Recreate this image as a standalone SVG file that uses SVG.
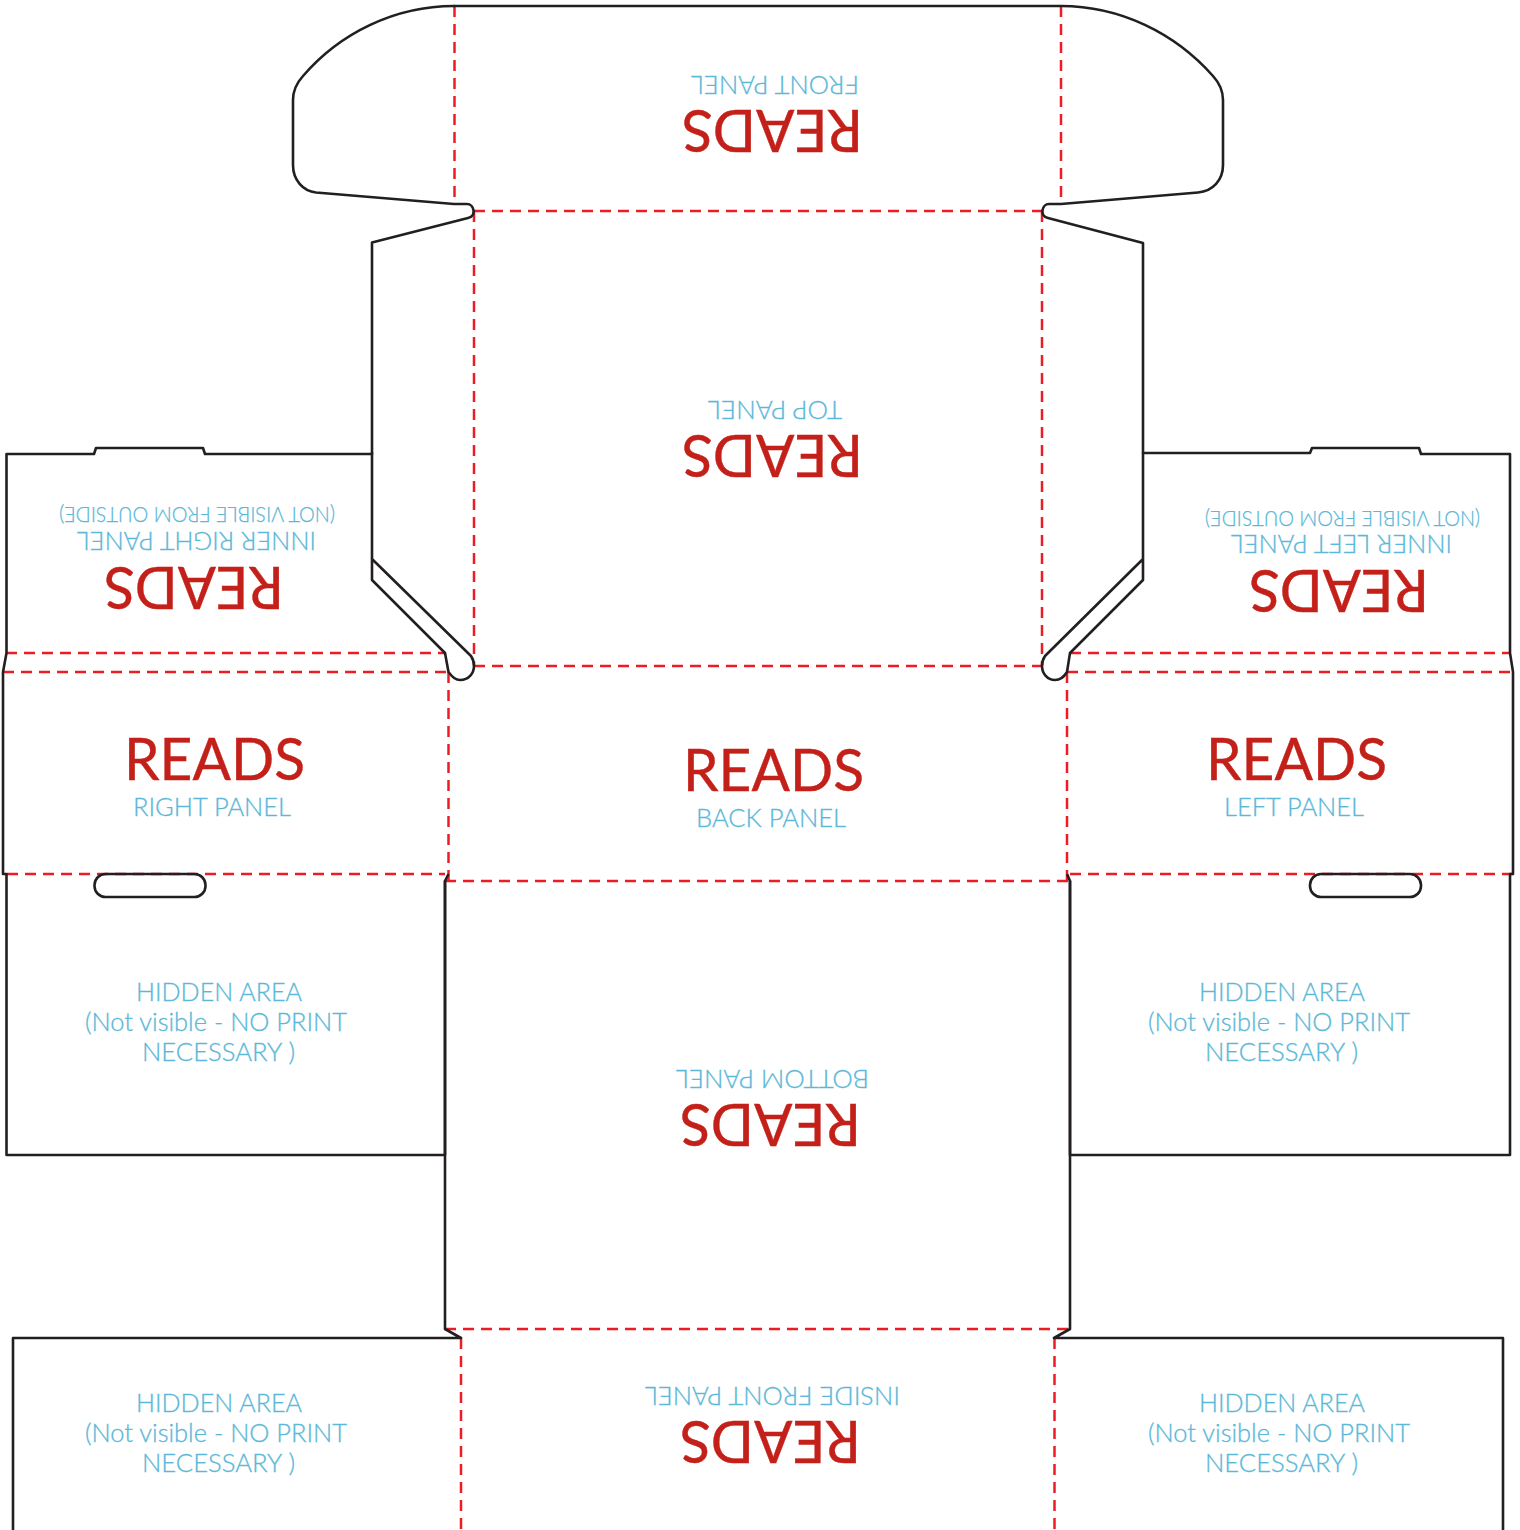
<svg xmlns="http://www.w3.org/2000/svg" width="1520" height="1530" viewBox="0 0 1520 1530">
<style>
.cut{fill:none;stroke:#231f20;stroke-width:2.6;stroke-linejoin:round;stroke-linecap:round}
.fold{fill:none;stroke:#ed1c24;stroke-width:2.5;stroke-dasharray:11 7}
text{font-family:"Lato","Noto Sans",sans-serif}
.brand{font-size:58px;font-weight:400;fill:#c4201a;stroke:#c4201a;stroke-width:.4}
.lab{font-size:25px;font-weight:300;fill:#5bb8d8;stroke:#5bb8d8;stroke-width:.3}
.note{font-size:21px;font-weight:300;fill:#5bb8d8;stroke:#5bb8d8;stroke-width:.25}
</style>
<rect width="1520" height="1530" fill="#fff"/>
<g id="connectors">
<path class="fold" d="M454.5 6V204M1061 6V204M474 211H1042M474 211V666M1042 211V666M474 666H1042M6 653H446M3 672H448M448.5 672V880M7 874H445M445 881H1070M1067 672V880M1070 653H1510M1067 672H1513M1070 874H1513M445 1329H1070M461 1338V1530M1054.500 1338V1530"/>
</g>
<g id="outline">
<path class="cut" d="M454 6H1061C1120 6 1175 33 1213 76Q1223 87 1223 100V165C1223 180 1213 191 1198 192.500L1061 204H1049C1042 204 1039 216 1048 218L1143 243V453H1310L1312 448H1419L1421 454H1510V653L1513 672V874H1510V1155H1070V881L1067.500 875"/>
<path class="cut" d="M454 6C395 6 340 33 303 76Q293 87 293 100V165C293 180 303 191 316 192.500L454 204H467C474 204 477 216 468 218L372 242.500V454H205L203 448H96L94 454H6.500V653L3 672V874H6.500V1155H445V881L448 875"/>
<path class="cut" d="M445 881V1329L461 1338H13V1530M1070 881V1329L1054 1338H1503V1530"/>
<path class="cut" d="M372 453V580L445 653L448.500 672C452 677 455 680 460 680C469 680 474 673 474 666C474 662 473 659 471 656L372 559"/>
<path class="cut" d="M1143 453V580L1070 653L1067 672C1064 677 1060 680 1055 680C1047 680 1042 673 1042 666C1042 662 1043 659 1045 656L1143 559"/>
<rect class="cut" x="94.500" y="874" width="111" height="23" rx="11"/>
<rect class="cut" x="1310" y="874" width="111" height="23" rx="11"/>
</g>
<g id="front-panel">
<text class="lab" transform="translate(859,76) rotate(180)" textLength="168" lengthAdjust="spacingAndGlyphs">FRONT PANEL</text>
<text class="brand" transform="translate(863,110) rotate(180)" textLength="181" lengthAdjust="spacingAndGlyphs">READS</text>
</g>
<g id="top-panel">
<text class="lab" transform="translate(842,401) rotate(180)" textLength="134" lengthAdjust="spacingAndGlyphs">TOP PANEL</text>
<text class="brand" transform="translate(863,435) rotate(180)" textLength="181" lengthAdjust="spacingAndGlyphs">READS</text>
</g>
<g id="inner-right-panel">
<text class="note" transform="translate(335,507) rotate(180)" textLength="276" lengthAdjust="spacingAndGlyphs">(NOT VISIBLE FROM OUTSIDE)</text>
<text class="lab" transform="translate(316,532) rotate(180)" textLength="239" lengthAdjust="spacingAndGlyphs">INNER RIGHT PANEL</text>
<text class="brand" transform="translate(284,567) rotate(180)" textLength="180" lengthAdjust="spacingAndGlyphs">READS</text>
</g>
<g id="inner-left-panel">
<text class="note" transform="translate(1480,511) rotate(180)" textLength="275" lengthAdjust="spacingAndGlyphs">(NOT VISIBLE FROM OUTSIDE)</text>
<text class="lab" transform="translate(1452,535) rotate(180)" textLength="221" lengthAdjust="spacingAndGlyphs">INNER LEFT PANEL</text>
<text class="brand" transform="translate(1429,570) rotate(180)" textLength="180" lengthAdjust="spacingAndGlyphs">READS</text>
</g>
<g id="right-panel">
<text class="brand" x="124" y="780" textLength="181" lengthAdjust="spacingAndGlyphs">READS</text>
<text class="lab" x="133" y="815.500" textLength="158" lengthAdjust="spacingAndGlyphs">RIGHT PANEL</text>
</g>
<g id="back-panel">
<text class="brand" x="683" y="791" textLength="181" lengthAdjust="spacingAndGlyphs">READS</text>
<text class="lab" x="696" y="826.500" textLength="150" lengthAdjust="spacingAndGlyphs">BACK PANEL</text>
</g>
<g id="left-panel">
<text class="brand" x="1206" y="780" textLength="181" lengthAdjust="spacingAndGlyphs">READS</text>
<text class="lab" x="1224" y="815.500" textLength="140" lengthAdjust="spacingAndGlyphs">LEFT PANEL</text>
</g>
<g id="hidden-mid-left">
<text class="lab" x="136" y="1001" textLength="166" lengthAdjust="spacingAndGlyphs">HIDDEN AREA</text>
<text class="lab" x="85" y="1031" textLength="262" lengthAdjust="spacingAndGlyphs">(Not visible - NO PRINT</text>
<text class="lab" x="142" y="1061" textLength="153" lengthAdjust="spacingAndGlyphs">NECESSARY )</text>
</g>
<g id="hidden-mid-right">
<text class="lab" x="1199" y="1001" textLength="166" lengthAdjust="spacingAndGlyphs">HIDDEN AREA</text>
<text class="lab" x="1148" y="1031" textLength="262" lengthAdjust="spacingAndGlyphs">(Not visible - NO PRINT</text>
<text class="lab" x="1205" y="1061" textLength="153" lengthAdjust="spacingAndGlyphs">NECESSARY )</text>
</g>
<g id="bottom-panel">
<text class="lab" transform="translate(869,1070) rotate(180)" textLength="193" lengthAdjust="spacingAndGlyphs">BOTTOM PANEL</text>
<text class="brand" transform="translate(861,1104) rotate(180)" textLength="181" lengthAdjust="spacingAndGlyphs">READS</text>
</g>
<g id="inside-front-panel">
<text class="lab" transform="translate(900,1387) rotate(180)" textLength="255" lengthAdjust="spacingAndGlyphs">INSIDE FRONT PANEL</text>
<text class="brand" transform="translate(861,1421) rotate(180)" textLength="181" lengthAdjust="spacingAndGlyphs">READS</text>
</g>
<g id="hidden-low-left">
<text class="lab" x="136" y="1412" textLength="166" lengthAdjust="spacingAndGlyphs">HIDDEN AREA</text>
<text class="lab" x="85" y="1442" textLength="262" lengthAdjust="spacingAndGlyphs">(Not visible - NO PRINT</text>
<text class="lab" x="142" y="1472" textLength="153" lengthAdjust="spacingAndGlyphs">NECESSARY )</text>
</g>
<g id="hidden-low-right">
<text class="lab" x="1199" y="1412" textLength="166" lengthAdjust="spacingAndGlyphs">HIDDEN AREA</text>
<text class="lab" x="1148" y="1442" textLength="262" lengthAdjust="spacingAndGlyphs">(Not visible - NO PRINT</text>
<text class="lab" x="1205" y="1472" textLength="153" lengthAdjust="spacingAndGlyphs">NECESSARY )</text>
</g>
</svg>
